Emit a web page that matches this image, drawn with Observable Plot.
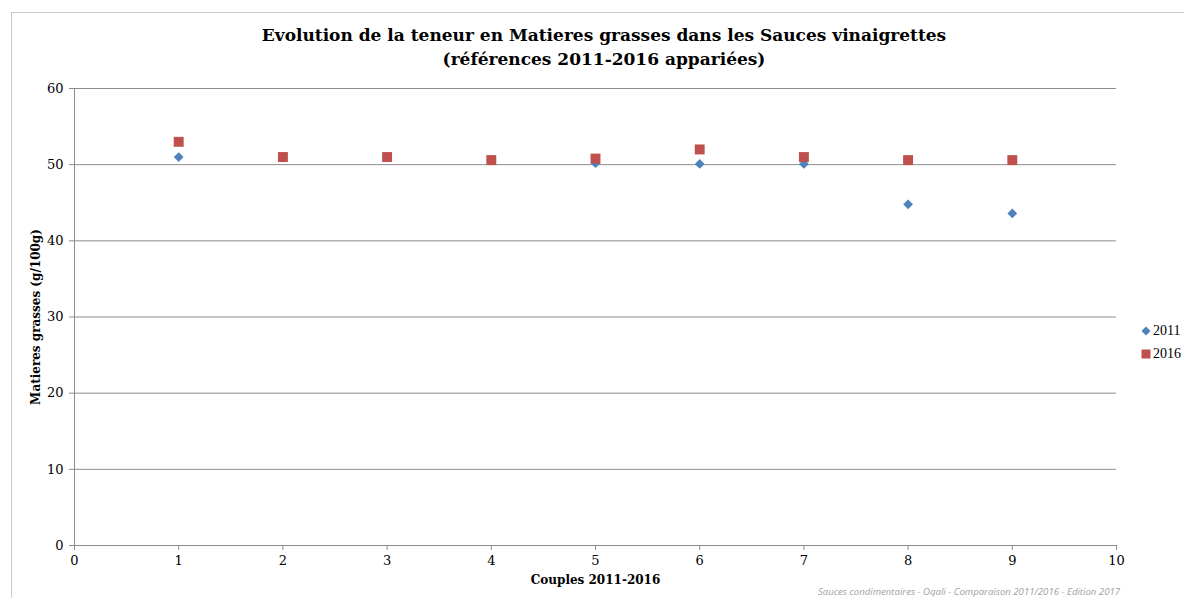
<!DOCTYPE html>
<html>
<head>
<meta charset="utf-8">
<script src="https://cdn.jsdelivr.net/npm/d3@7"></script>
<script src="https://cdn.jsdelivr.net/npm/@observablehq/plot@0.6"></script>
<style>
  html, body { margin: 0; padding: 0; background: #fff; }
  #wrap { position: relative; width: 1184px; height: 598px; overflow: hidden; }
  #frame { position: absolute; left: 11px; top: 12px; width: 1200px; height: 620px; border-left: 1px solid #c8c8c8; border-top: 1px solid #c8c8c8; }
  #title { position: absolute; left: 0; width: 1208px; top: 23px; text-align: center; font-family: "DejaVu Serif", serif; font-weight: bold; font-size: 17px; line-height: 24px; color: #000; }
  #legend { position: absolute; left: 1141px; top: 319px; font-family: "Liberation Serif", serif; font-size: 14px; color: #000; }
  #legend div { height: 23px; display: flex; align-items: center; white-space: nowrap; }
  #legend svg { margin-right: 2px; }
  #caption { position: absolute; right: 64px; top: 585px; font-family: "Open Sans", sans-serif; font-style: italic; font-size: 9.6px; color: #a0a0a0; white-space: nowrap; }
  #chart { position: absolute; left: 0; top: 0; }
</style>
</head>
<body>
<div id="wrap">
  <div id="frame"></div>
  <div id="chart"></div>
  <div id="title">Evolution de la teneur en Matieres grasses dans les Sauces vinaigrettes<br>(références 2011-2016 appariées)</div>
  <div id="legend"></div>
  <div id="caption">Sauces condimentaires - Oqali - Comparaison 2011/2016 - Edition 2017</div>
</div>
<script>
const couples = [1, 2, 3, 4, 5, 6, 7, 8, 9];
const values2011 = [51, 51, 51, 50.6, 50.2, 50.1, 50.1, 44.8, 43.6];
const values2016 = [53, 51, 51, 50.6, 50.8, 52, 51, 50.6, 50.6];
const seriesNames = ["2011", "2016"];
const colors = ["#4F81BD", "#C0504D"];
const xTicks = [0, 1, 2, 3, 4, 5, 6, 7, 8, 9, 10];
const yTicks = [0, 10, 20, 30, 40, 50, 60];

const d2011 = couples.map((c, i) => ({couple: c, value: values2011[i], serie: seriesNames[0]}));
const d2016 = couples.map((c, i) => ({couple: c, value: values2016[i], serie: seriesNames[1]}));

const plot = Plot.plot({
  width: 1184,
  height: 598,
  marginLeft: 74,
  marginRight: 68,
  marginTop: 88,
  marginBottom: 53,
  style: {fontFamily: "DejaVu Serif, serif", fontSize: "13px", color: "#000", background: "transparent"},
  x: {domain: [0, 10]},
  y: {domain: [0, 60]},
  marks: [
    Plot.gridY(yTicks.filter(d => d > 0), {stroke: "#8c8c8c", strokeOpacity: 1, strokeWidth: 1}),
    Plot.ruleX([0], {stroke: "#8c8c8c", strokeWidth: 1}),
    Plot.ruleY([0], {stroke: "#8c8c8c", strokeWidth: 1}),
    Plot.axisY({ticks: yTicks, tickSize: 5, tickPadding: 6, stroke: "#8c8c8c", label: null, fontSize: 13}),
    Plot.axisX({ticks: xTicks, tickSize: 5, tickPadding: 5, stroke: "#8c8c8c", label: null, fontSize: 13}),
    Plot.text(["Matieres grasses (g/100g)"], {frameAnchor: "left", textAnchor: "middle", dx: -38, rotate: -90, fontWeight: "bold", fontSize: 12}),
    Plot.text(["Couples 2011-2016"], {frameAnchor: "bottom", dy: 38, fontWeight: "bold", fontSize: 12}),
    Plot.dot(d2011, {x: "couple", y: "value", symbol: "diamond2", r: 4.4, fill: colors[0], stroke: null}),
    Plot.dot(d2016, {x: "couple", y: "value", symbol: "square", r: 5.6, fill: colors[1], stroke: null})
  ]
});
document.getElementById("chart").appendChild(plot);

const legend = document.getElementById("legend");
seriesNames.forEach((name, i) => {
  const row = document.createElement("div");
  const shape = i === 0
    ? `<svg width="10" height="10"><path d="M5,0.5L9.5,5L5,9.5L0.5,5Z" fill="${colors[0]}"/></svg>`
    : `<svg width="10" height="10"><rect x="0.5" y="0.5" width="9" height="9" fill="${colors[1]}"/></svg>`;
  row.innerHTML = shape + `<span>${name}</span>`;
  legend.appendChild(row);
});
</script>
</body>
</html>
